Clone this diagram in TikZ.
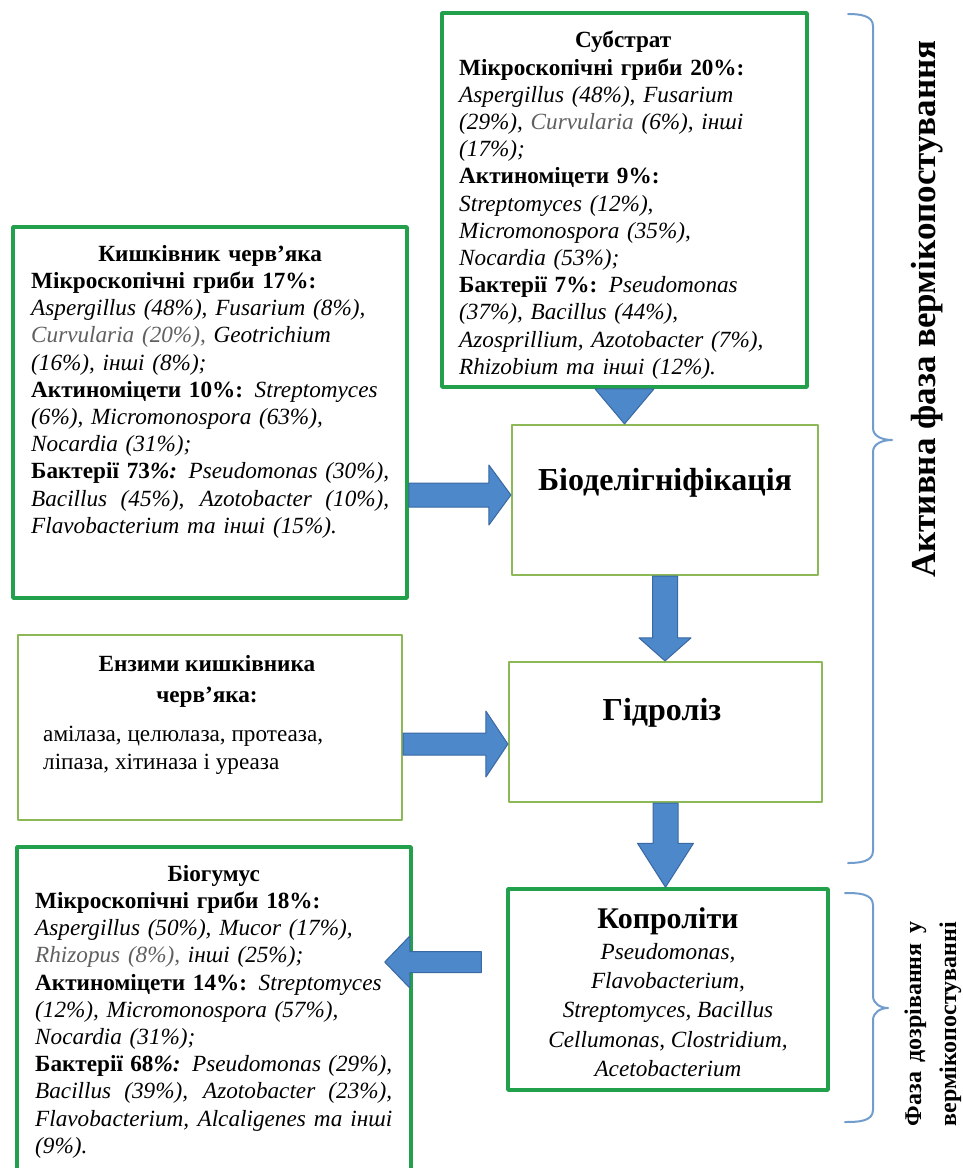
\documentclass[tikz,border=0pt]{standalone}
\usepackage{fontspec}
\setmainfont{Liberation Serif}
\usetikzlibrary{calc,positioning}
\definecolor{darkgreen}{RGB}{34,160,76}
\definecolor{lightgreen}{RGB}{140,184,86}
\definecolor{arrowblue}{RGB}{76,136,202}
\definecolor{arrowedge}{RGB}{58,104,162}
\definecolor{bracecol}{RGB}{112,156,206}
\definecolor{genusgray}{RGB}{96,96,96}
\newlength{\matwidth}
% tail, tip, shaft half width, head half width, head length
\newcommand{\fatarrow}[5]{%
	\path ($(#2)!#5!(#1)$) coordinate (fa base);
	\draw[blockarrow] ($(#1)!#3!90:(#2)$) -- ($(fa base)!#3!90:(#2)$) -- ($(fa base)!#4!90:(#2)$) -- (#2)
	-- ($(fa base)!#4!-90:(#2)$) -- ($(fa base)!#3!-90:(#2)$) -- ($(#1)!#3!-90:(#2)$) -- cycle;}
\newcommand{\fullline}[1]{\makebox[\linewidth][s]{\spaceskip=0.25em plus 1em minus 0.12em\relax #1}}
\newcommand{\midline}[1]{\makebox[\linewidth]{#1}}
\newcommand{\grey}[1]{\textcolor{genusgray}{#1}}
\begin{document}
\begin{tikzpicture}[x=1pt,y=-1pt,line join=round,
		strongbox/.style={draw=darkgreen,line width=3.5pt,inner sep=0pt},
		weakbox/.style={draw=lightgreen,line width=2.2pt,inner sep=0pt},
		bodytext/.style={inner sep=0pt,align=left,font=\fontsize{23.2}{27.2}\selectfont},
		headtext/.style={inner sep=0pt,font=\fontsize{32}{38}\selectfont\bfseries},
		blockarrow/.style={fill=arrowblue,draw=arrowedge,line width=1pt},
		brace/.style={draw=bracecol,line width=2pt,line cap=round}]
	\path[use as bounding box,fill=white] (0,0) rectangle (962,1168);
	
	% boxes
	\node[strongbox,minimum width=365pt,minimum height=374pt] (substrat) at (624.5,200) {};
	\node[strongbox,minimum width=394pt,minimum height=371pt] (kyshk) at (210,412.5) {};
	\node[weakbox,minimum width=306pt,minimum height=150pt] (biodel) at (665,500) {};
	\node[weakbox,minimum width=313pt,minimum height=140pt] (gidroliz) at (665.5,732) {};
	\node[weakbox,minimum width=384pt,minimum height=185pt] (enzymes) at (210,727.5) {};
	\node[strongbox,minimum width=394pt,minimum height=333pt] (biohumus) at (214,1013.5) {};
	\node[strongbox,minimum width=320pt,minimum height=201pt] (koproliti) at (668,989.5) {};
	
	% texts
	\node[bodytext,text width=328pt,anchor=north west] (substrat text) at (459,31) {%
		\midline{\textbf{Субстрат}}\\
		\textbf{Мікроскопічні гриби 20\%:}\\
		\textit{Aspergillus (48\%), Fusarium}\\
		\textit{(29\%), \grey{Curvularia} (6\%), інші}\\
		\textit{(17\%);}\\
		\textbf{Актиноміцети 9\%:}\\
		\textit{Streptomyces (12\%),}\\
		\textit{Micromonospora (35\%),}\\
		\textit{Nocardia (53\%);}\\
		\textbf{Бактерії 7\%:} \textit{Pseudomonas}\\
		\textit{(37\%), Bacillus (44\%),}\\
		\textit{Azosprillium, Azotobacter (7\%),}\\
		\textit{Rhizobium та інші (12\%).}};
	\node[bodytext,text width=358pt,anchor=north west] (kyshk text) at (31,245) {%
		\midline{\textbf{Кишківник черв’яка}}\\
		\textbf{Мікроскопічні гриби 17\%:}\\
		\textit{Aspergillus (48\%), Fusarium (8\%),}\\
		\textit{\grey{Curvularia (20\%),} Geotrichium}\\
		\textit{(16\%), інші (8\%);}\\
		\textbf{Актиноміцети 10\%:} \textit{Streptomyces}\\
		\textit{(6\%), Micromonospora (63\%),}\\
		\textit{Nocardia (31\%);}\\
		\fullline{\textbf{Бактерії 73\textit{\%:}} \textit{Pseudomonas (30\%),}}\\
		\fullline{\textit{Bacillus (45\%), Azotobacter (10\%),}}\\
		\textit{Flavobacterium та інші (15\%).}};
	\node[bodytext,align=center,anchor=north,font=\fontsize{23.2}{31}\selectfont\bfseries] (enzymes head) at (207,655) {Ензими кишківника\\черв’яка:};
	\node[bodytext,anchor=north west,font=\fontsize{23.2}{28}\selectfont] (enzymes text) at (43,726) {амілаза, целюлаза, протеаза,\\ліпаза, хітиназа і уреаза};
	\node[bodytext,text width=357pt,anchor=north west] (biohumus text) at (35,865) {%
		\midline{\textbf{Біогумус}}\\
		\textbf{Мікроскопічні гриби 18\%:}\\
		\textit{Aspergillus (50\%), Mucor (17\%),}\\
		\textit{\grey{Rhizopus (8\%),} інші (25\%);}\\
		\textbf{Актиноміцети 14\%:} \textit{Streptomyces}\\
		\textit{(12\%), Micromonospora (57\%),}\\
		\textit{Nocardia (31\%);}\\
		\fullline{\textbf{Бактерії 68\textit{\%:}} \textit{Pseudomonas (29\%),}}\\
		\fullline{\textit{Bacillus (39\%), Azotobacter (23\%),}}\\
		\fullline{\textit{Flavobacterium, Alcaligenes та інші}}\\
		\textit{(9\%).}};
	\node[headtext,anchor=base] (biodel label) at (665,490) {Біоделігніфікація};
	\node[headtext,anchor=base] (gidroliz label) at (662,720) {Гідроліз};
	\node[headtext,anchor=north,font=\fontsize{30}{36}\selectfont\bfseries] (koproliti head) at (668,907) {Копроліти};
	\node[bodytext,align=center,anchor=north,font=\fontsize{23.2}{29.3}\selectfont\itshape] (koproliti text) at (668,943) {Pseudomonas,\\Flavobacterium,\\Streptomyces, Bacillus\\Cellumonas, Clostridium,\\Acetobacterium};
	
	% arrows
	\path (substrat.south) coordinate (a tail)
	(substrat.south |- biodel.north) coordinate (a tip)
	(biodel.south) coordinate (b tail)
	(biodel.south |- gidroliz.north) coordinate (b tip)
	(gidroliz.south) coordinate (c tail)
	(gidroliz.south |- koproliti.north) coordinate (c tip)
	([yshift=5pt]biodel.west) coordinate (d tip)
	(kyshk.east |- d tip) coordinate (d tail)
	([yshift=-12pt]gidroliz.west) coordinate (e tip)
	(enzymes.east |- e tip) coordinate (e tail)
	([xshift=-25pt,yshift=27.5pt]koproliti.west) coordinate (f tail)
	([xshift=-28pt]biohumus.east |- f tail) coordinate (f tip);
	\fatarrow{a tail}{a tip}{15pt}{29.5pt}{35pt}
	\fatarrow{b tail}{b tip}{12.5pt}{26pt}{23pt}
	\fatarrow{c tail}{c tip}{12.5pt}{28pt}{44pt}
	\fatarrow{d tail}{d tip}{12pt}{30pt}{22pt}
	\fatarrow{e tail}{e tip}{11pt}{33pt}{22pt}
	\fatarrow{f tail}{f tip}{10.5pt}{26pt}{25pt}
	
	% braces
	\draw[brace] (848,14) to[out=0,in=90] (873,26) -- (873,428) to[out=-90,in=180] (892,440)
	to[out=180,in=90] (873,452) -- (873,851) to[out=-90,in=0] (848,863);
	\draw[brace] (845,893) to[out=0,in=90] (873,905) -- (873,996) to[out=-90,in=180] (888,1008)
	to[out=180,in=90] (873,1020) -- (873,1110) to[out=-90,in=0] (845,1122);
	\node[rotate=90,font=\fontsize{35}{42}\selectfont\bfseries] (active label) at (927,309) {Активна фаза вермікопостування};
	\node[rotate=90,align=center,inner sep=0pt,font=\fontsize{24}{35}\selectfont\bfseries] (mature label) at (933,1024) {%
		\settowidth{\matwidth}{вермікопостуванні}\makebox[\matwidth][s]{\spaceskip=0.25em plus 1em\relax Фаза дозрівання у}\\вермікопостуванні};
\end{tikzpicture}
\end{document}
